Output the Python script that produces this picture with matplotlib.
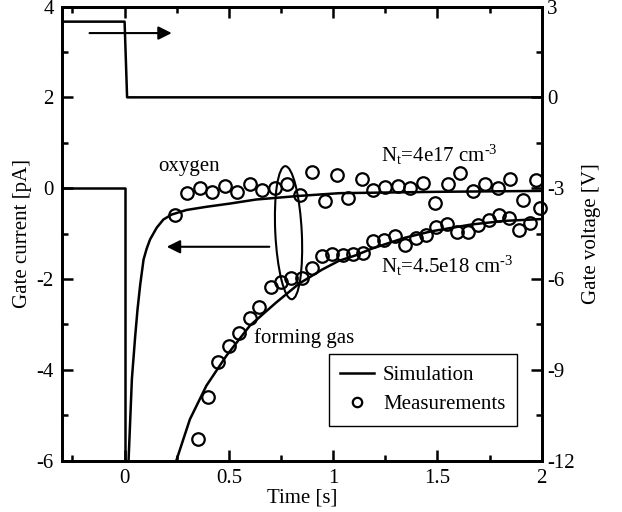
import numpy as np
import matplotlib
matplotlib.use('Agg')
from matplotlib import pyplot as plt
from matplotlib.patches import Ellipse
from matplotlib.ticker import MultipleLocator, FuncFormatter

plt.rcParams['font.family'] = ['Liberation Serif', 'DejaVu Serif']
plt.rcParams['font.size'] = 15
plt.rcParams['axes.unicode_minus'] = False
plt.rcParams['mathtext.fontset'] = 'custom'
plt.rcParams['mathtext.rm'] = 'Liberation Serif'
plt.rcParams['mathtext.it'] = 'Liberation Serif:italic'

# gate voltage pulse (right axis)
v_t = [-0.3, 0.0, 0.012, 2.0]
v_v = [2.5, 2.5, 0.0, 0.0]

# gate current before / at the step
step_t = [-0.3, 0.0, 0.0]
step_i = [0.0, 0.0, -6.5]

# simulation, oxygen anneal (Nt=4e17)
ox_sim_t = [0.019, 0.035, 0.051, 0.062, 0.075, 0.091, 0.106, 0.122, 0.154, 0.186,
            0.226, 0.297, 0.392, 0.503, 0.63, 0.837, 1.03, 1.5, 2.0]
ox_sim_i = [-6.0, -4.2, -3.25, -2.67, -2.12, -1.57, -1.33, -1.13, -0.87, -0.69,
            -0.58, -0.48, -0.41, -0.34, -0.25, -0.17, -0.11, -0.08, -0.06]

# simulation, forming gas anneal (Nt=4.5e18)
fg_sim_t = [0.25, 0.313, 0.392, 0.488, 0.60, 0.726, 0.837, 0.948, 1.027, 1.107,
            1.186, 1.265, 1.345, 1.47, 1.662, 1.82, 2.0]
fg_sim_i = [-5.97, -5.09, -4.35, -3.69, -3.03, -2.52, -2.10, -1.79, -1.60, -1.48,
            -1.33, -1.21, -1.09, -0.95, -0.80, -0.72, -0.68]

# measurements, oxygen
ox_t = [0.24, 0.30, 0.36, 0.42, 0.48, 0.54, 0.60, 0.66, 0.72, 0.78, 0.84, 0.90,
        0.96, 1.02, 1.07, 1.14, 1.19, 1.25, 1.31, 1.37, 1.43, 1.49, 1.55, 1.61,
        1.67, 1.73, 1.79, 1.85, 1.91, 1.97]
ox_i = [-0.58, -0.10, 0.01, -0.08, 0.04, -0.08, 0.10, -0.03, 0.01, 0.10, -0.14, 0.36,
        -0.29, 0.30, -0.21, 0.21, -0.03, 0.02, 0.04, 0.01, 0.12, -0.32, 0.10, 0.34,
        -0.07, 0.10, 0.01, 0.21, -0.25, 0.19]

# measurements, forming gas
fg_t = [0.35, 0.40, 0.45, 0.50, 0.55, 0.60, 0.645, 0.70, 0.75, 0.80, 0.85, 0.90,
        0.945, 0.995, 1.045, 1.095, 1.145, 1.19, 1.246, 1.294, 1.345, 1.395, 1.445,
        1.495, 1.546, 1.595, 1.646, 1.693, 1.745, 1.794, 1.845, 1.89, 1.943, 1.99]
fg_i = [-5.52, -4.59, -3.82, -3.47, -3.18, -2.86, -2.62, -2.17, -2.07, -1.97, -1.97, -1.75,
        -1.49, -1.46, -1.48, -1.46, -1.42, -1.16, -1.13, -1.05, -1.24, -1.09, -1.02,
        -0.85, -0.78, -0.97, -0.97, -0.80, -0.70, -0.60, -0.65, -0.93, -0.76, -0.43]

fig = plt.figure(figsize=(6.22, 5.12), dpi=100)
ax = fig.add_axes([0.0997, 0.1002, 0.7713, 0.8871])

ax.plot(step_t, step_i, 'k-', lw=1.8)
ax.plot(ox_sim_t, ox_sim_i, 'k-', lw=1.8, label='Simulation')
ax.plot(fg_sim_t, fg_sim_i, 'k-', lw=1.8)
ax.plot(ox_t, ox_i, 'o', ms=9, mfc='none', mec='k', mew=1.6, label='Measurements',
        clip_on=False)
ax.plot(fg_t, fg_i, 'o', ms=9, mfc='none', mec='k', mew=1.6, clip_on=False)

ax.add_patch(Ellipse((0.786, -0.98), 0.127, 2.93, angle=0.6, fill=False, lw=1.5, ec='k'))

ax.annotate('', xy=(0.226, 3.415), xytext=(-0.168, 3.415),
            arrowprops=dict(arrowstyle='-|>', mutation_scale=20, lw=1.5, color='k',
                            shrinkA=0, shrinkB=0))
ax.annotate('', xy=(0.202, -1.29), xytext=(0.694, -1.29),
            arrowprops=dict(arrowstyle='-|>', mutation_scale=20, lw=1.5, color='k',
                            shrinkA=0, shrinkB=0))

ax.text(0.16, 0.37, 'oxygen', va='baseline')
ax.text(0.622, -3.40, 'forming gas', va='baseline')
ax.text(1.23, 0.59, r'N$_\mathrm{t}$=4e17 cm$^{\text{-3}}$', va='baseline')
ax.text(1.23, -1.86, r'N$_\mathrm{t}$=4.5e18 cm$^{\text{-3}}$', va='baseline')

ax.set_xlim(-0.3, 2)
ax.set_ylim(-6, 4)
ax.xaxis.set_major_locator(MultipleLocator(0.5))
ax.xaxis.set_minor_locator(MultipleLocator(0.25))
ax.yaxis.set_major_locator(MultipleLocator(2))
ax.yaxis.set_minor_locator(MultipleLocator(1))
fmt = FuncFormatter(lambda v, p: '%g' % v)
ax.xaxis.set_major_formatter(fmt)
ax.yaxis.set_major_formatter(fmt)
ax.tick_params(which='both', direction='in', top=True, right=False, width=1.8)
ax.tick_params(which='major', length=8, pad=6)
ax.tick_params(which='minor', length=4)
ax.set_xlabel('Time [s]', labelpad=0)
ax.set_ylabel('Gate current [pA]', labelpad=3)
for s in ax.spines.values():
    s.set_linewidth(2)

ax2 = ax.twinx()
ax2.plot(v_t, v_v, 'k-', lw=1.8)
ax2.set_ylim(-12, 3)
ax2.yaxis.set_major_locator(MultipleLocator(3))
ax2.yaxis.set_minor_locator(MultipleLocator(1.5))
ax2.yaxis.set_major_formatter(fmt)
ax2.tick_params(which='both', direction='in', width=1.8)
ax2.tick_params(which='major', length=8, pad=4)
ax2.tick_params(which='minor', length=4)
ax2.set_ylabel('Gate voltage [V]', labelpad=5)
for s in ax2.spines.values():
    s.set_linewidth(2)

ax.legend(loc='upper left', bbox_to_anchor=(0.556, 0.234), borderaxespad=0,
          fancybox=False, edgecolor='k', framealpha=1, markerscale=0.75,
          handlelength=1.6, handletextpad=0.45, borderpad=0.55, labelspacing=0.45)
ax.get_legend().get_frame().set_linewidth(1.0)

fig.savefig('out.png', dpi=100)
